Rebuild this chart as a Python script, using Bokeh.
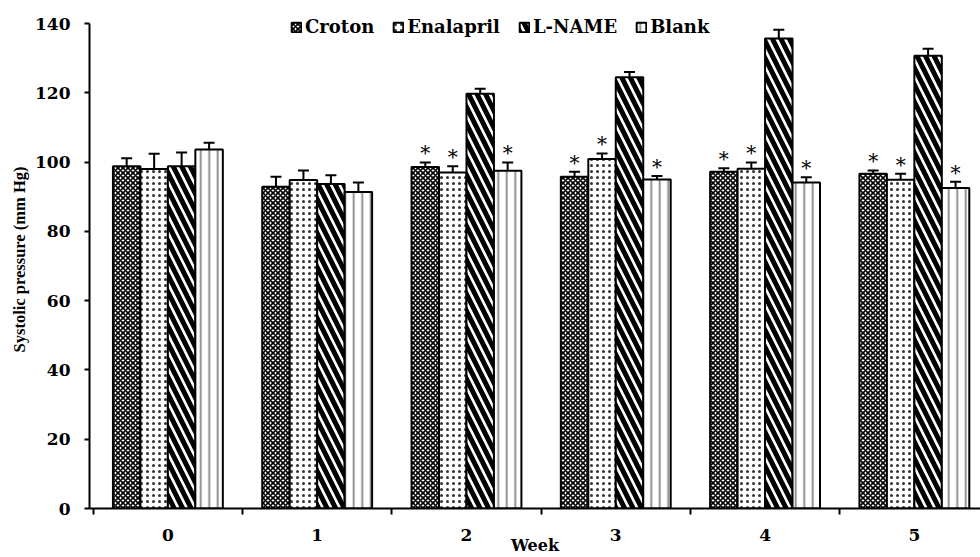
from bokeh.plotting import figure
from bokeh.models import FixedTicker, Legend, LegendItem, Range1d
from bokeh.core.properties import value
from bokeh.embed import file_html
from bokeh.resources import INLINE

weeks = ["0", "1", "2", "3", "4", "5"]
groups = ["Croton", "Enalapril", "L-NAME", "Blank"]

croton = [98.8, 92.9, 98.6, 95.8, 97.2, 96.6]
croton_err = [2.3, 2.9, 1.3, 1.4, 1.0, 1.0]
enalapril = [98.0, 94.8, 97.0, 100.9, 98.1, 94.9]
enalapril_err = [4.4, 2.8, 1.8, 1.6, 1.8, 1.7]
lname = [98.8, 93.7, 119.7, 124.5, 135.7, 130.7]
lname_err = [4.0, 2.5, 1.5, 1.5, 2.5, 2.0]
blank = [103.6, 91.4, 97.5, 95.0, 94.1, 92.5]
blank_err = [2.0, 2.7, 2.4, 1.0, 1.5, 1.8]

# significance marks (* vs L-NAME)
croton_sig = [False, False, True, True, True, True]
enalapril_sig = [False, False, True, True, True, True]
lname_sig = [False, False, False, False, False, False]
blank_sig = [False, False, True, True, True, True]

series = [
    (groups[0], croton, croton_err, croton_sig),
    (groups[1], enalapril, enalapril_err, enalapril_sig),
    (groups[2], lname, lname_err, lname_sig),
    (groups[3], blank, blank_err, blank_sig),
]

styles = {
    "Croton": dict(fill_color="white", hatch_pattern="x", hatch_color="black",
                   hatch_scale=5, hatch_weight=1.6),
    "Enalapril": dict(fill_color="white", hatch_pattern="dot", hatch_color="black",
                      hatch_scale=6, hatch_weight=0.5, hatch_alpha=0.8),
    "L-NAME": dict(fill_color="white", hatch_pattern="left_diagonal_line", hatch_color="black",
                   hatch_scale=17, hatch_weight=5),
    "Blank": dict(fill_color="white", hatch_pattern="vertical_line", hatch_color="#858585",
                  hatch_scale=8.5, hatch_weight=1.8),
}

FONT = "DejaVu Serif"

p = figure(width=980, height=557, x_range=Range1d(-0.525, 5.443), y_range=Range1d(0, 143.76),
           output_backend="svg", toolbar_location=None,
           min_border_left=89, min_border_right=0, min_border_top=10, min_border_bottom=48)
p.outline_line_color = None
p.xgrid.visible = False
p.ygrid.visible = False

w = 0.184
legend_items = []
for k, (name, vals, errs, sig) in enumerate(series):
    xs = [i + (k - 1.5) * w for i in range(len(weeks))]
    r = p.vbar(x=xs, top=vals, bottom=0, width=w, line_color="black", line_width=2,
               **styles[name])
    legend_items.append(LegendItem(label=name, renderers=[r]))
    ups = [v + e for v, e in zip(vals, errs)]
    p.segment(x0=xs, y0=vals, x1=xs, y1=ups, line_color="black", line_width=2)
    p.scatter(x=xs, y=ups, marker="dash", size=11, line_color="black", line_width=2)
    sx = [x for x, s in zip(xs, sig) if s]
    sy = [u for u, s in zip(ups, sig) if s]
    p.text(x=sx, y=sy, text=["*"] * len(sx), text_align="center", text_baseline="middle",
           y_offset=-9, text_font=value(FONT), text_font_size="20px", text_color="black")

# axes
p.xaxis.ticker = FixedTicker(ticks=list(range(len(weeks))),
                             minor_ticks=[i - 0.5 for i in range(len(weeks) + 1)])
p.xaxis.major_label_overrides = {i: wk for i, wk in enumerate(weeks)}
p.xaxis.major_tick_out = 0
p.xaxis.major_tick_in = 0
p.xaxis.minor_tick_out = 6
p.xaxis.minor_tick_in = 0
p.xaxis.minor_tick_line_color = "black"
p.xaxis.minor_tick_line_width = 2
p.xaxis.axis_label = "Week"
p.xaxis.major_label_standoff = 14
p.xaxis.axis_label_standoff = -8

p.yaxis.ticker = FixedTicker(ticks=[0, 20, 40, 60, 80, 100, 120, 140])
p.yaxis.bounds = (0, 140)
p.yaxis.major_tick_out = 5
p.yaxis.major_tick_in = 0
p.yaxis.minor_tick_line_color = None
p.yaxis.axis_label = "Systolic pressure (mm Hg)"
p.yaxis.major_label_standoff = 14
p.yaxis.axis_label_standoff = 3

for ax in (p.xaxis, p.yaxis):
    ax.axis_line_color = "black"
    ax.axis_line_width = 2
    ax.major_tick_line_color = "black"
    ax.major_tick_line_width = 2
    ax.major_label_text_font = FONT
    ax.major_label_text_font_style = "bold"
    ax.major_label_text_font_size = "17px"
    ax.major_label_text_color = "black"
    ax.axis_label_text_font_style = "bold"
    ax.axis_label_text_color = "black"
p.xaxis.axis_label_text_font = FONT
p.xaxis.axis_label_text_font_size = "16px"
p.yaxis.axis_label_text_font = "Liberation Serif"
p.yaxis.axis_label_text_font_size = "16.5px"

legend = Legend(items=legend_items, orientation="horizontal", location=(201, 471),
                label_text_font=FONT, label_text_font_style="bold", label_text_font_size="18px",
                label_text_color="black", glyph_width=12, glyph_height=12, spacing=18,
                label_standoff=3, padding=2, margin=0, border_line_color=None,
                background_fill_alpha=0)
p.add_layout(legend)

open("out.html", "w").write(file_html(p, INLINE))
